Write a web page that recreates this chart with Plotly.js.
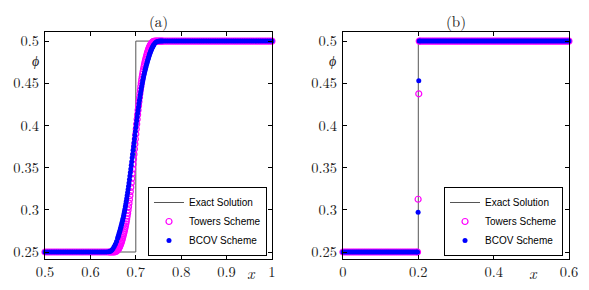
<!DOCTYPE html>
<html>
<head>
<meta charset="utf-8">
<script src="https://cdn.plot.ly/plotly-3.0.1.min.js"></script>
<style>html,body{margin:0;padding:0;background:#fff;}#plot{width:589px;height:290px;}</style>
</head>
<body>
<div id="plot"></div>
<script>
// ---------- data ----------
var panelTitles = ['(a)', '(b)'];
var seriesNames = ['Exact Solution', 'Towers Scheme', 'BCOV Scheme'];

// panel (a)
var exactAx = [0.5, 0.7, 0.7, 1];
var exactAy = [0.25, 0.25, 0.5, 0.5];
var xA = [0.5,0.505,0.51,0.515,0.52,0.525,0.53,0.535,0.54,0.545,0.55,0.555,0.56,0.565,0.57,0.575,0.58,0.585,0.59,0.595,
  0.6,0.605,0.61,0.615,0.62,0.625,0.63,0.635,
  0.64,0.6425,0.645,0.6475,0.65,0.6525,0.655,0.6575,
  0.66,0.661,0.662,0.663,0.664,0.665,0.666,0.667,0.668,0.669,0.67,0.671,0.672,0.673,0.674,0.675,0.676,0.677,0.678,0.679,
  0.68,0.681,0.682,0.683,0.684,0.685,0.686,0.687,0.688,0.689,0.69,0.691,0.692,0.693,0.694,0.695,0.696,0.697,0.698,0.699,
  0.7,0.701,0.702,0.703,0.704,0.705,0.706,0.707,0.708,0.709,0.71,0.711,0.712,0.713,0.714,0.715,0.716,0.717,0.718,0.719,
  0.72,0.721,0.722,0.723,0.724,0.725,0.726,0.727,0.728,0.729,0.73,0.731,0.732,0.733,0.734,0.735,0.736,0.737,0.738,0.739,0.74,
  0.7425,0.745,0.7475,0.75,0.7525,0.755,0.7575,0.76,
  0.765,0.77,0.775,0.78,0.785,0.79,0.795,0.8,0.805,0.81,0.815,0.82,0.825,0.83,0.835,0.84,0.845,0.85,0.855,0.86,0.865,0.87,0.875,
  0.88,0.885,0.89,0.895,0.9,0.905,0.91,0.915,0.92,0.925,0.93,0.935,0.94,0.945,0.95,0.955,0.96,0.965,0.97,0.975,0.98,0.985,0.99,0.995,1];
var towersA = [0.25,0.25,0.25,0.25,0.25,0.25,0.25,0.25,0.25,0.25,0.25,0.25,0.25,0.25,0.25,0.25,0.25,0.25,0.25,0.25,
  0.25,0.25,0.25,0.25,0.25,0.25,0.25,0.25,
  0.25,0.25,0.25,0.25,0.25,0.25,0.2503,0.2510,
  0.2523,0.2531,0.2540,0.2550,0.2561,0.2573,0.2587,0.2601,0.2617,0.2634,0.2652,0.2671,0.2692,0.2713,0.2735,0.2758,0.2782,0.2807,0.2834,0.2862,
  0.2893,0.2926,0.2960,0.2998,0.3037,0.3079,0.3122,0.3169,0.3216,0.3266,0.3318,0.3372,0.3427,0.3484,0.3542,0.3601,0.3660,0.3720,0.3780,0.3840,
  0.3899,0.3958,0.4016,0.4073,0.4128,0.4182,0.4234,0.4284,0.4331,0.4378,0.4421,0.4463,0.4502,0.4540,0.4574,0.4607,0.4638,0.4666,0.4693,0.4718,
  0.4742,0.4765,0.4787,0.4808,0.4829,0.4848,0.4866,0.4883,0.4899,0.4913,0.4927,0.4939,0.4950,0.4960,0.4969,0.4977,0.4983,0.4988,0.4992,0.4995,0.4997,
  0.5,0.5,0.5,0.5,0.5,0.5,0.5,0.5,
  0.5,0.5,0.5,0.5,0.5,0.5,0.5,0.5,0.5,0.5,0.5,0.5,0.5,0.5,0.5,0.5,0.5,0.5,0.5,0.5,0.5,0.5,0.5,
  0.5,0.5,0.5,0.5,0.5,0.5,0.5,0.5,0.5,0.5,0.5,0.5,0.5,0.5,0.5,0.5,0.5,0.5,0.5,0.5,0.5,0.5,0.5,0.5,0.5];
var bcovA = [0.25,0.25,0.25,0.25,0.25,0.25,0.25,0.25,0.25,0.25,0.25,0.25,0.25,0.25,0.25,0.25,0.25,0.25,0.25,0.25,
  0.25,0.25,0.25,0.25,0.25,0.25,0.25,0.25,
  0.2502,0.2505,0.2512,0.2524,0.2541,0.2564,0.2592,0.2625,
  0.2663,0.2680,0.2697,0.2715,0.2734,0.2753,0.2773,0.2793,0.2813,0.2834,0.2855,0.2878,0.2901,0.2926,0.2952,0.2979,0.3008,0.3038,0.3069,0.3101,
  0.3134,0.3169,0.3205,0.3242,0.3280,0.3319,0.3359,0.3400,0.3442,0.3484,0.3528,0.3571,0.3616,0.3660,0.3705,0.3750,0.3795,0.3840,0.3884,0.3929,
  0.3972,0.4016,0.4058,0.4100,0.4141,0.4181,0.4220,0.4258,0.4295,0.4331,0.4366,0.4399,0.4431,0.4462,0.4492,0.4521,0.4548,0.4574,0.4599,0.4622,
  0.4645,0.4666,0.4686,0.4707,0.4727,0.4747,0.4766,0.4785,0.4803,0.4820,0.4837,0.4853,0.4868,0.4882,0.4895,0.4908,0.4920,0.4931,0.4941,0.4950,0.4959,
  0.4976,0.4988,0.4995,0.4998,0.5,0.5,0.5,0.5,
  0.5,0.5,0.5,0.5,0.5,0.5,0.5,0.5,0.5,0.5,0.5,0.5,0.5,0.5,0.5,0.5,0.5,0.5,0.5,0.5,0.5,0.5,0.5,
  0.5,0.5,0.5,0.5,0.5,0.5,0.5,0.5,0.5,0.5,0.5,0.5,0.5,0.5,0.5,0.5,0.5,0.5,0.5,0.5,0.5,0.5,0.5,0.5,0.5];

// panel (b)
var exactBx = [0, 0.2, 0.2, 0.6];
var exactBy = [0.25, 0.25, 0.5, 0.5];
var xB = [0,0.005,0.01,0.015,0.02,0.025,0.03,0.035,0.04,0.045,0.05,0.055,0.06,0.065,0.07,0.075,0.08,0.085,0.09,0.095,
  0.1,0.105,0.11,0.115,0.12,0.125,0.13,0.135,0.14,0.145,0.15,0.155,0.16,0.165,0.17,0.175,0.18,0.185,0.19,0.195,
  0.198,0.1995,0.2012,0.2025,
  0.205,0.21,0.215,0.22,0.225,0.23,0.235,0.24,0.245,0.25,0.255,0.26,0.265,0.27,0.275,0.28,0.285,0.29,0.295,0.3,
  0.305,0.31,0.315,0.32,0.325,0.33,0.335,0.34,0.345,0.35,0.355,0.36,0.365,0.37,0.375,0.38,0.385,0.39,0.395,0.4,
  0.405,0.41,0.415,0.42,0.425,0.43,0.435,0.44,0.445,0.45,0.455,0.46,0.465,0.47,0.475,0.48,0.485,0.49,0.495,0.5,
  0.505,0.51,0.515,0.52,0.525,0.53,0.535,0.54,0.545,0.55,0.555,0.56,0.565,0.57,0.575,0.58,0.585,0.59,0.595,0.6];
var towersB = [0.25,0.25,0.25,0.25,0.25,0.25,0.25,0.25,0.25,0.25,0.25,0.25,0.25,0.25,0.25,0.25,0.25,0.25,0.25,0.25,
  0.25,0.25,0.25,0.25,0.25,0.25,0.25,0.25,0.25,0.25,0.25,0.25,0.25,0.25,0.25,0.25,0.25,0.25,0.25,0.25,
  0.25,0.3125,0.4375,0.5,
  0.5,0.5,0.5,0.5,0.5,0.5,0.5,0.5,0.5,0.5,0.5,0.5,0.5,0.5,0.5,0.5,0.5,0.5,0.5,0.5,
  0.5,0.5,0.5,0.5,0.5,0.5,0.5,0.5,0.5,0.5,0.5,0.5,0.5,0.5,0.5,0.5,0.5,0.5,0.5,0.5,
  0.5,0.5,0.5,0.5,0.5,0.5,0.5,0.5,0.5,0.5,0.5,0.5,0.5,0.5,0.5,0.5,0.5,0.5,0.5,0.5,
  0.5,0.5,0.5,0.5,0.5,0.5,0.5,0.5,0.5,0.5,0.5,0.5,0.5,0.5,0.5,0.5,0.5,0.5,0.5,0.5];
var bcovB = [0.25,0.25,0.25,0.25,0.25,0.25,0.25,0.25,0.25,0.25,0.25,0.25,0.25,0.25,0.25,0.25,0.25,0.25,0.25,0.25,
  0.25,0.25,0.25,0.25,0.25,0.25,0.25,0.25,0.25,0.25,0.25,0.25,0.25,0.25,0.25,0.25,0.25,0.25,0.25,0.25,
  0.25,0.297,0.453,0.5,
  0.5,0.5,0.5,0.5,0.5,0.5,0.5,0.5,0.5,0.5,0.5,0.5,0.5,0.5,0.5,0.5,0.5,0.5,0.5,0.5,
  0.5,0.5,0.5,0.5,0.5,0.5,0.5,0.5,0.5,0.5,0.5,0.5,0.5,0.5,0.5,0.5,0.5,0.5,0.5,0.5,
  0.5,0.5,0.5,0.5,0.5,0.5,0.5,0.5,0.5,0.5,0.5,0.5,0.5,0.5,0.5,0.5,0.5,0.5,0.5,0.5,
  0.5,0.5,0.5,0.5,0.5,0.5,0.5,0.5,0.5,0.5,0.5,0.5,0.5,0.5,0.5,0.5,0.5,0.5,0.5,0.5];

// ticks
var yTickVals = [0.25, 0.3, 0.35, 0.4, 0.45, 0.5];
var yTickText = ['0.25', '0.3', '0.35', '0.4', '0.45', '0.5'];
var xTickValsA = [0.5, 0.6, 0.7, 0.8, 0.9, 1];
var xTickTextA = ['0.5', '0.6', '0.7', '0.8', '0.9', '1'];
var xTickValsB = [0, 0.2, 0.4, 0.6];
var xTickTextB = ['0', '0.2', '0.4', '0.6'];

// ---------- style ----------
var serif = '"Latin Modern Roman", "Liberation Serif", serif';
var sans = '"Liberation Sans", Arial, sans-serif';
var exactColor = '#555';
var towersColor = '#ff00ff';
var bcovColor = '#0000ff';

function traces(ex, ey, x, t, b, xa, ya, lg) {
  return [
    {x: ex, y: ey, xaxis: xa, yaxis: ya, legend: lg, type: 'scatter', mode: 'lines', name: seriesNames[0],
     line: {color: exactColor, width: 1}, cliponaxis: false},
    {x: x, y: t, xaxis: xa, yaxis: ya, legend: lg, type: 'scatter', mode: 'markers', name: seriesNames[1],
     marker: {symbol: 'circle-open', size: 6, color: towersColor, line: {width: 1.2, color: towersColor}}, cliponaxis: false},
    {x: x, y: b, xaxis: xa, yaxis: ya, legend: lg, type: 'scatter', mode: 'markers', name: seriesNames[2],
     marker: {symbol: 'circle', size: 5, color: bcovColor}, cliponaxis: false}
  ];
}

var data = traces(exactAx, exactAy, xA, towersA, bcovA, 'x', 'y', 'legend')
  .concat(traces(exactBx, exactBy, xB, towersB, bcovB, 'x2', 'y2', 'legend2'));

function axis(extra) {
  var a = {showline: true, linecolor: '#000', linewidth: 1, mirror: 'ticks', ticks: 'inside', ticklen: 4,
    tickcolor: '#000', tickwidth: 1, showgrid: false, zeroline: false, tickmode: 'array',
    tickfont: {family: serif, size: 14.5, color: '#222'}, fixedrange: true};
  for (var k in extra) a[k] = extra[k];
  return a;
}

var yDom = [0.1069, 0.888];
var yRange = [0.2417, 0.5102];

var legendBase = {xanchor: 'right', yanchor: 'bottom', bgcolor: '#fff', bordercolor: '#000', borderwidth: 1,
  font: {family: sans, size: 10, color: '#000'}, itemwidth: 30, tracegroupgap: 0};

function note(text, x, y, size) {
  return {text: text, xref: 'paper', yref: 'paper', x: x, y: y, xanchor: 'center', yanchor: 'middle',
    showarrow: false, font: {family: serif, size: size, color: '#222'}};
}

var layout = {
  width: 589, height: 290,
  margin: {l: 0, r: 0, t: 0, b: 0},
  paper_bgcolor: '#fff', plot_bgcolor: '#fff',
  showlegend: true,
  xaxis: axis({domain: [0.0764, 0.4618], range: [0.5, 1], anchor: 'y', tickvals: xTickValsA, ticktext: xTickTextA}),
  yaxis: axis({domain: yDom, range: yRange, anchor: 'x', tickvals: yTickVals, ticktext: yTickText, ticklabelstandoff: 2}),
  xaxis2: axis({domain: [0.5823, 0.966], range: [0, 0.6], anchor: 'y2', tickvals: xTickValsB, ticktext: xTickTextB}),
  yaxis2: axis({domain: yDom, range: yRange, anchor: 'x2', tickvals: yTickVals, ticktext: yTickText, ticklabelstandoff: 2}),
  legend: Object.assign({}, legendBase, {x: 0.4533, y: 0.1172}),
  legend2: Object.assign({}, legendBase, {x: 0.9559, y: 0.1172}),
  annotations: [
    note(panelTitles[0], 0.2691, 0.931, 15),
    note(panelTitles[1], 0.7742, 0.931, 15),
    note('<i>ϕ</i>', 0.0611, 0.793, 14),
    note('<i>ϕ</i>', 0.5637, 0.793, 14),
    note('<i>x</i>', 0.4278, 0.062, 16),
    note('<i>x</i>', 0.9066, 0.062, 16)
  ]
};

Plotly.newPlot('plot', data, layout, {staticPlot: true, displayModeBar: false});
</script>
</body>
</html>
